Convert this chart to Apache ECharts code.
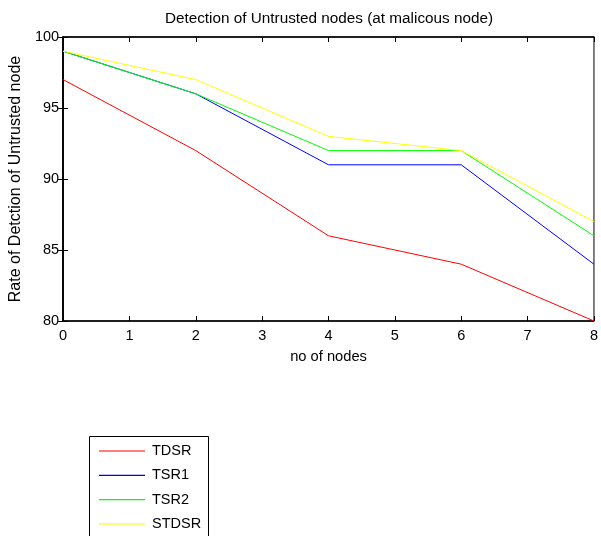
<!DOCTYPE html>
<html>
<head>
<meta charset="utf-8">
<script src="https://cdn.jsdelivr.net/npm/echarts@6/dist/echarts.min.js"></script>
<style>html,body{margin:0;padding:0;background:#fff}#c{width:601px;height:536px}</style>
</head>
<body>
<div id="c"></div>
<script>
var xValues = [0, 2, 4, 6, 8];
var seriesNames = ['TDSR', 'TSR1', 'TSR2', 'STDSR'];
var tdsr = [97, 92, 86, 84, 80];
var tsr1 = [99, 96, 91, 91, 84];
var tsr2 = [99, 96, 92, 92, 86];
var stdsr = [99, 97, 93, 92, 87];
var seriesColors = ['#ff0000', '#0000ff', '#00ff00', '#ffff00'];
var allValues = [tdsr, tsr1, tsr2, stdsr];

var FONT = 'Liberation Sans, Arial, sans-serif';
var chart = echarts.init(document.getElementById('c'), null, {renderer: 'canvas'});

function pairs(vals) { return xValues.map(function (x, i) { return [x, vals[i]]; }); }

var series = seriesNames.map(function (n, i) {
  return {
    name: n, type: 'line', data: pairs(allValues[i]), symbol: 'none', showSymbol: false,
    lineStyle: {color: seriesColors[i], width: 1}, itemStyle: {color: seriesColors[i]},
    animation: false, z: 2 + i
  };
});

var axisLine = {show: true, lineStyle: {color: '#000', width: 1.5}};
var tick = {show: true, inside: true, length: 5, lineStyle: {color: '#000', width: 1}};

chart.setOption({
  animation: false,
  backgroundColor: '#fff',
  title: {
    text: 'Detection of Untrusted nodes (at malicous node)',
    left: 324, top: 6, textAlign: 'center',
    textStyle: {fontFamily: FONT, fontSize: 15.3, fontWeight: 'normal', color: '#000'}
  },
  grid: {left: 62, right: 4, top: 37, bottom: 215, show: true, borderColor: '#000', borderWidth: 1},
  graphic: [{
    type: 'rect', left: 89, top: 436, silent: true, z: 0,
    shape: {x: 0, y: 0, width: 119, height: 140},
    style: {fill: '#fff', stroke: '#000', lineWidth: 1}
  }],
  legend: {
    data: seriesNames, orient: 'vertical', left: 99, top: 443.5,
    padding: 0, itemGap: 9.3, itemWidth: 46, itemHeight: 1.2, icon: 'rect',
    textStyle: {fontFamily: FONT, fontSize: 14.5, lineHeight: 15, color: '#000', padding: [0, 0, 0, 2]},
    z: 10
  },
  xAxis: [{
    type: 'value', min: 0, max: 8, interval: 1,
    name: 'no of nodes', nameLocation: 'middle', nameGap: 28,
    nameTextStyle: {fontFamily: FONT, fontSize: 14.7, color: '#000'},
    axisLine: axisLine, axisTick: tick, splitLine: {show: false},
    axisLabel: {fontFamily: FONT, fontSize: 14.5, color: '#000', margin: 7}
  }, {
    type: 'value', min: 0, max: 8, interval: 1, position: 'top',
    axisLine: axisLine, axisTick: tick, splitLine: {show: false}, axisLabel: {show: false}
  }],
  yAxis: [{
    type: 'value', min: 80, max: 100, interval: 5,
    name: 'Rate of Detction of Untrusted node', nameLocation: 'middle', nameGap: 37,
    nameTextStyle: {fontFamily: FONT, fontSize: 16, color: '#000'},
    axisLine: axisLine, axisTick: tick, splitLine: {show: false},
    axisLabel: {fontFamily: FONT, fontSize: 14.5, color: '#000', margin: 4}
  }, {
    type: 'value', min: 80, max: 100, interval: 5, position: 'right',
    axisLine: axisLine, axisTick: tick, splitLine: {show: false}, axisLabel: {show: false}
  }],
  series: series
});
</script>
</body>
</html>
